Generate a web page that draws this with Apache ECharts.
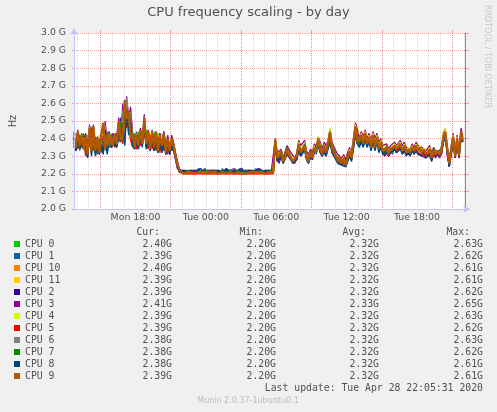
<!DOCTYPE html>
<html>
<head>
<meta charset="utf-8">
<script src="https://cdn.jsdelivr.net/npm/echarts@6/dist/echarts.min.js"></script>
<style>
html,body{margin:0;padding:0;background:#F0F0F0;}
#chart{width:497px;height:412px;}
</style>
</head>
<body>
<div id="chart"></div>
<script>
// ---- data: CPU frequency in units of 0.01 GHz, 10-minute samples from Mon 12:45 ----
const sampleStartHour = 12.75;   // hours since Mon 00:00
const sampleStepHour = 1 / 6;
const viewStartHour = 12.758;
const viewEndHour = 46.092;      // Tue 22:05:31

const cpuNames = ['CPU 0','CPU 1','CPU 10','CPU 11','CPU 2','CPU 3','CPU 4','CPU 5','CPU 6','CPU 7','CPU 8','CPU 9'];
const cpuColors = ['#00CC00','#0066B3','#FF8000','#FFCC00','#330099','#990099','#CCFF00','#FF0000','#808080','#008F00','#00487D','#B35A00'];
const curG = [2.40,2.39,2.40,2.39,2.39,2.41,2.39,2.39,2.38,2.38,2.38,2.39];
const minG = [2.20,2.20,2.20,2.20,2.20,2.20,2.20,2.20,2.20,2.20,2.20,2.20];
const avgG = [2.32,2.32,2.32,2.32,2.32,2.33,2.32,2.32,2.32,2.32,2.32,2.32];
const maxG = [2.63,2.62,2.61,2.61,2.62,2.65,2.63,2.62,2.63,2.62,2.61,2.61];

const xLabelHours = [18,24,30,36,42];
const xLabelTexts = ['Mon 18:00','Tue 00:00','Tue 06:00','Tue 12:00','Tue 18:00'];
const majorGridHours = [15,21,27,33,39,45];
const minorGridHours = [13,14,15,16,17,18,19,20,21,22,23,24,25,26,27,28,29,30,31,32,33,34,35,36,37,38,39,40,41,42,43,44,45,46];

const cpu0 = [
236,243,235,242,236,241,232,242,238,247,
234,240,233,241,233,241,233,243,237,243,
242,236,242,239,251,238,259,247,250,244,
236,243,235,244,237,245,241,245,235,243,
235,244,234,243,233,242,235,241,233,240,
234,237,231,226,222,221,221,222,221,221,
222,221,221,222,221,221,222,221,221,222,
221,221,222,221,221,222,221,222,221,221,
222,221,221,221,222,221,221,222,221,221,
221,222,221,221,222,221,221,221,222,221,
221,222,221,238,231,228,232,228,227,235,
234,228,229,226,231,233,235,231,238,231,
229,230,231,233,234,237,236,233,233,235,
235,240,236,235,231,229,227,228,226,226,
231,230,231,236,244,243,236,240,239,240,
239,238,237,240,237,238,236,236,235,231,
236,233,235,232,237,233,236,235,234,234,
234,232,233,234,234,234,235,233,234,232,
232,231,235,231,234,232,232,233,232,238,
242,235,228,235,238,232,237,232,240,240];
const cpu1 = [
238,234,241,235,239,236,235,230,244,235,
243,231,239,234,238,234,246,232,240,236,
237,240,236,246,239,250,237,261,246,252,
238,234,240,234,243,236,250,235,241,233,
241,234,239,232,243,233,240,231,238,231,
238,234,229,224,222,221,221,221,222,221,
221,222,221,221,223,221,221,222,221,221,
222,221,221,221,222,221,223,221,221,222,
221,221,222,221,221,223,221,221,222,221,
222,221,221,223,221,221,222,221,221,222,
221,221,221,237,227,227,231,226,228,232,
230,229,226,227,229,235,231,232,235,228,
226,231,228,234,231,238,233,230,235,230,
236,240,233,231,229,226,228,225,228,224,
228,232,228,236,245,237,236,240,236,241,
236,240,234,240,234,240,233,237,232,231,
233,230,233,231,235,233,234,236,232,235,
231,233,231,234,232,235,232,234,231,233,
229,231,232,228,232,230,232,230,232,239,
242,231,224,232,239,229,238,229,242,239];
const cpu10 = [
243,237,242,234,240,237,238,234,243,236,
245,235,238,236,240,236,247,235,241,238,
239,241,238,247,242,254,239,258,249,247,
241,237,243,238,242,239,249,239,243,236,
242,236,241,235,242,234,241,233,239,234,
239,235,230,225,221,220,221,220,220,221,
220,221,220,220,221,220,221,220,220,221,
220,221,220,221,220,220,221,220,221,220,
221,220,220,221,220,221,220,220,221,220,
220,221,220,220,221,220,221,220,220,221,
220,220,221,239,230,229,232,228,228,233,
233,229,228,227,230,236,233,233,237,230,
228,232,230,234,233,239,235,232,235,233,
236,242,235,234,230,228,229,227,228,226,
230,232,230,237,246,240,237,241,238,242,
238,240,236,241,236,240,235,237,234,232,
235,232,234,233,236,234,235,236,234,235,
233,233,232,235,233,235,233,234,232,233,
231,232,233,230,233,231,233,231,233,240,
243,234,227,234,240,231,239,231,241,240];
const cpu11 = [
237,242,238,241,235,242,233,240,239,244,
236,239,235,242,236,244,240,242,235,241,
240,237,241,244,247,242,256,251,254,240,
240,236,243,237,244,238,247,240,236,244,
237,242,236,242,235,243,237,240,235,239,
236,237,231,226,222,220,220,221,220,220,
221,220,220,221,220,220,221,220,220,220,
221,220,220,220,221,220,220,221,220,220,
220,221,220,220,220,221,220,220,221,220,
220,220,221,220,220,220,221,220,220,220,
221,220,220,240,231,230,234,227,230,236,
236,231,230,228,232,239,236,235,239,233,
230,234,232,237,235,241,238,234,238,236,
239,246,238,237,233,231,232,229,231,228,
232,235,232,240,249,246,240,244,241,245,
240,243,239,244,240,243,238,240,236,235,
237,234,236,235,238,236,237,239,236,238,
235,236,234,237,235,238,236,237,235,236,
233,234,236,232,235,233,234,233,235,244,
246,236,228,236,243,232,242,232,245,239];
const cpu2 = [
241,233,243,234,238,235,243,229,242,232,
246,232,241,231,243,232,247,233,244,235,
243,235,243,238,252,240,247,262,243,251,
237,240,234,242,236,244,246,236,243,234,
240,233,242,232,240,232,244,231,241,231,
237,233,228,223,222,222,221,222,222,221,
222,222,221,222,222,223,221,222,222,221,
222,223,222,221,222,222,221,222,223,222,
221,222,222,221,222,222,223,221,222,222,
221,222,222,221,223,222,221,222,222,221,
222,222,221,237,228,226,230,226,227,231,
232,228,226,226,228,234,230,231,234,228,
226,230,228,232,231,236,232,230,233,231,
235,238,233,232,228,226,227,225,227,224,
227,230,228,235,243,237,236,239,236,240,
236,239,234,239,234,239,233,236,232,230,
232,230,232,231,234,232,233,235,232,234,
231,232,231,233,232,234,232,233,230,232,
229,230,231,228,231,230,231,230,231,238,
241,231,224,231,238,229,237,229,241,239];
const cpu3 = [
244,236,245,237,243,235,242,233,248,234,
248,234,241,233,243,236,250,237,244,236,
243,238,243,252,241,260,246,264,252,258,
244,236,244,237,246,238,254,238,245,235,
245,236,244,234,243,237,244,233,242,234,
242,238,232,227,223,221,222,221,222,222,
221,222,222,221,222,221,222,223,221,222,
222,221,222,222,221,222,222,221,222,223,
222,221,223,222,221,222,222,221,222,222,
221,222,222,222,221,223,222,221,222,222,
221,222,222,240,232,232,234,229,230,236,
237,232,231,229,232,239,236,235,239,233,
231,234,232,237,235,241,238,234,238,236,
239,245,238,237,233,231,232,229,231,228,
232,235,232,240,249,245,240,244,241,245,
240,243,239,244,240,243,238,240,236,235,
237,234,236,235,238,236,237,239,236,238,
235,236,234,237,235,238,236,237,235,236,
233,234,236,232,235,233,234,233,235,243,
245,236,228,236,243,232,242,232,246,241];
const cpu4 = [
239,241,237,243,234,240,236,238,245,231,
241,237,236,240,235,239,244,238,236,240,
238,243,235,249,243,253,242,263,247,249,
242,235,241,238,243,236,251,241,239,237,
243,233,240,236,238,241,236,238,234,241,
235,236,230,225,222,221,221,220,221,221,
221,221,221,220,221,221,221,220,221,221,
220,221,221,221,221,220,221,221,220,221,
221,221,221,220,221,221,220,221,221,221,
220,221,221,221,220,221,221,221,220,221,
221,221,220,238,229,229,233,226,229,234,
232,230,227,227,230,238,233,233,238,231,
228,232,229,236,232,241,236,231,236,233,
238,246,235,235,230,228,230,227,229,225,
229,234,230,239,248,241,238,243,239,244,
238,242,236,243,236,242,235,239,234,233,
236,232,235,233,237,235,236,238,234,237,
233,235,233,236,233,237,234,236,233,235,
231,233,235,230,234,232,233,232,234,242,
245,234,226,234,242,231,241,231,244,239];
const cpu5 = [
235,240,234,241,235,239,230,240,237,246,
233,238,231,240,232,240,234,241,235,241,
241,235,239,240,246,237,255,246,251,239,
235,242,234,242,236,244,242,243,234,242,
234,242,233,241,232,240,233,239,231,238,
233,235,229,224,221,220,220,220,220,220,
220,220,220,220,220,220,220,220,220,220,
220,220,220,220,220,220,220,220,220,220,
220,220,220,220,220,220,220,220,220,220,
220,220,220,220,220,220,220,220,220,220,
220,220,220,237,229,227,231,227,227,233,
232,228,228,226,229,234,232,231,236,229,
227,231,229,233,232,237,234,231,234,232,
235,241,234,233,229,227,228,226,227,225,
229,231,229,236,244,239,236,240,237,241,
237,239,235,240,235,239,234,236,233,231,
234,231,233,232,235,233,234,235,233,234,
232,232,231,234,232,234,232,233,231,232,
230,231,232,229,232,230,232,230,232,239,
242,233,226,233,240,230,239,230,243,239];
const cpu6 = [
242,236,243,233,241,236,240,232,247,234,
246,234,240,233,241,235,248,235,243,236,
237,242,236,248,241,256,240,263,250,255,
242,236,243,236,244,237,253,237,244,234,
244,235,243,233,242,235,242,232,240,232,
239,236,230,225,222,221,221,221,221,221,
221,221,221,221,221,221,221,221,221,221,
221,221,221,221,221,221,221,221,221,221,
221,221,221,221,221,221,221,221,221,221,
221,221,221,221,221,221,221,221,221,221,
221,221,221,239,229,230,233,227,229,234,
232,230,227,228,230,237,233,233,237,230,
228,232,229,235,232,240,235,231,236,232,
237,244,234,234,230,228,230,226,229,225,
229,233,230,238,247,239,237,242,238,243,
237,241,235,242,236,241,234,238,233,232,
235,231,234,233,236,234,235,237,233,236,
232,234,232,235,233,236,233,235,232,234,
231,232,234,229,233,231,233,231,233,240,
243,233,226,233,241,230,240,230,243,238];
const cpu7 = [
237,240,236,242,237,243,234,236,240,245,
238,241,234,237,239,238,236,244,238,239,
241,238,240,242,250,239,252,256,248,245,
239,241,237,241,240,243,243,244,238,240,
238,241,237,240,236,239,238,237,235,237,
236,236,231,225,222,222,221,221,222,221,
221,222,221,221,222,221,221,221,222,221,
221,221,222,221,221,221,222,221,221,221,
222,221,221,221,222,221,221,221,222,221,
221,221,222,221,221,221,222,221,221,221,
222,221,221,238,230,228,233,228,228,235,
235,229,229,227,231,235,234,232,237,231,
228,231,230,234,233,238,235,232,234,233,
236,242,236,235,231,228,228,227,227,226,
231,231,230,237,245,242,237,241,238,241,
238,239,236,241,236,240,235,237,234,232,
236,232,234,233,236,234,236,236,234,235,
234,233,232,235,234,235,234,234,233,233,
231,231,234,230,234,231,233,232,233,239,
243,234,227,234,240,231,239,231,242,238];
const cpu8 = [
236,233,239,234,237,234,237,229,241,230,
244,230,236,231,237,231,245,231,239,235,
235,237,235,243,238,249,236,257,242,250,
236,234,238,234,241,235,248,234,240,233,
239,233,238,232,239,232,239,231,236,231,
236,233,228,223,221,221,221,221,221,221,
222,221,221,221,221,222,221,221,221,221,
221,221,221,222,221,221,221,221,222,221,
221,222,221,221,221,221,222,221,221,221,
221,221,221,221,222,221,221,221,221,222,
221,221,221,236,227,226,230,226,226,231,
230,228,226,226,228,233,230,230,234,228,
226,229,228,232,231,236,232,230,232,230,
234,238,232,231,228,226,226,225,226,224,
227,230,227,234,242,237,235,238,235,239,
235,238,233,238,233,238,232,235,231,230,
232,230,232,231,234,232,233,234,231,233,
230,232,230,233,231,233,231,232,230,231,
229,230,231,227,231,229,231,229,231,238,
241,231,224,231,238,229,237,229,240,238];
const cpu9 = [
240,235,244,236,242,234,241,231,246,233,
247,233,240,232,242,249,234,243,236,242,
236,243,237,250,239,241,262,251,256,240,
243,235,242,236,245,237,252,237,244,234,
243,235,244,233,241,236,243,232,240,233,
240,236,230,225,222,221,220,221,221,220,
221,221,220,221,221,220,221,221,221,220,
221,220,221,221,220,221,221,221,220,221,
221,221,220,221,221,221,220,221,220,221,
221,220,221,221,221,220,221,221,220,221,
221,220,221,239,229,231,233,227,229,234,
231,230,227,228,230,237,232,234,236,229,
227,233,229,235,232,240,234,231,236,232,
237,244,234,233,230,227,230,226,229,225,
229,233,229,238,247,238,237,242,237,243,
237,241,235,242,235,241,234,238,233,232,
235,231,234,233,236,234,235,237,233,236,
232,234,232,235,233,236,233,235,232,234,
231,232,234,229,233,231,233,231,233,241,
244,233,226,233,241,230,240,230,244,239];

const cpuValues = [cpu0,cpu1,cpu10,cpu11,cpu2,cpu3,cpu4,cpu5,cpu6,cpu7,cpu8,cpu9];

// ---- styling ----
const TXT = '#505050';
const AXIS_LAVENDER = '#c4c4f2';
const MAJOR = 'rgba(224,80,80,0.5)';
const MINOR = 'rgba(143,143,143,0.35)';
const MONO = '"DejaVu Sans Mono", monospace';
const SANS = '"DejaVu Sans", sans-serif';
const FS = 9.8;
// later series are drawn on top; the last ones get a slightly broader stroke so
// the band reads as a dense brown/orange mass like the reference
const lineWidths = [1.2,1.2,1.6,1.2,1.2,1.2,1.2,1.2,1.2,1.2,1.4,2.2];

const chart = echarts.init(document.getElementById('chart'), null, {renderer: 'canvas'});

const series = cpuNames.map((name, k) => ({
  name: name,
  type: 'line',
  xAxisIndex: 0,
  yAxisIndex: 0,
  showSymbol: false,
  symbol: 'none',
  animation: false,
  silent: true,
  color: cpuColors[k],
  lineStyle: {width: lineWidths[k], color: cpuColors[k]},
  data: cpuValues[k].map((v, i) => [sampleStartHour + i * sampleStepHour, v / 100])
}));

const fmtG = v => v.toFixed(2) + 'G';

const option = {
  backgroundColor: '#F0F0F0',
  animation: false,
  title: {
    text: 'CPU frequency scaling - by day',
    left: 'center',
    top: 6,
    padding: 0,
    textStyle: {fontFamily: SANS, fontSize: 13, fontWeight: 'normal', color: TXT}
  },
  grid: {
    left: 67, right: 32, top: 33, bottom: 203,
    show: true, backgroundColor: '#FFFFFF', borderWidth: 0,
    containLabel: false
  },
  legend: {
    orient: 'vertical',
    left: 14,
    top: 238,
    padding: 0,
    itemGap: 0,
    itemWidth: 6,
    itemHeight: 6,
    icon: 'rect',
    selectedMode: false,
    data: cpuNames.map((n, k) => ({name: n, itemStyle: {color: cpuColors[k]}})),
    formatter: name => {
      const k = cpuNames.indexOf(name);
      return '{n|' + name + '}{c|' + fmtG(curG[k]) + '}{mi|' + fmtG(minG[k]) +
             '}{a|' + fmtG(avgG[k]) + '}{mx|' + fmtG(maxG[k]) + '}';
    },
    textStyle: {
      fontFamily: MONO, fontSize: FS, color: TXT, lineHeight: 12,
      rich: {
        n: {fontFamily: MONO, fontSize: FS, color: TXT, width: 101, align: 'left', lineHeight: 12},
        c: {fontFamily: MONO, fontSize: FS, color: TXT, width: 46, align: 'right', lineHeight: 12},
        mi: {fontFamily: MONO, fontSize: FS, color: TXT, width: 104, align: 'right', lineHeight: 12},
        a: {fontFamily: MONO, fontSize: FS, color: TXT, width: 103, align: 'right', lineHeight: 12},
        mx: {fontFamily: MONO, fontSize: FS, color: TXT, width: 104, align: 'right', lineHeight: 12}
      }
    }
  },
  xAxis: [
    {
      type: 'value', min: viewStartHour, max: viewEndHour, z: 5,
      axisLine: {show: true, lineStyle: {color: AXIS_LAVENDER, width: 1},
                 symbol: ['none', 'arrow'], symbolSize: [6, 7], symbolOffset: [0, 5]},
      axisTick: {show: false, customValues: xLabelHours},
      splitLine: {show: false},
      axisLabel: {
        customValues: xLabelHours,
        formatter: v => xLabelTexts[xLabelHours.indexOf(Math.round(v))] || '',
        color: TXT, fontFamily: SANS, fontSize: 9.4, margin: 4, hideOverlap: false
      }
    },
    {
      type: 'value', min: viewStartHour, max: viewEndHour, z: 1,
      axisLine: {show: false},
      axisLabel: {show: false},
      axisTick: {show: false, customValues: minorGridHours},
      splitLine: {show: true, lineStyle: {color: MINOR, width: 1, type: [1, 1]}}
    },
    {
      type: 'value', min: viewStartHour, max: viewEndHour, z: 2,
      axisLine: {show: false},
      axisLabel: {show: false},
      axisTick: {show: true, customValues: majorGridHours, length: 3, inside: false,
                 lineStyle: {color: MAJOR, width: 1}},
      splitLine: {show: true, lineStyle: {color: MAJOR, width: 1, type: [1, 1]}}
    }
  ],
  yAxis: [
    {
      type: 'value', min: 2.0, max: 3.0, interval: 0.1, position: 'left', z: 5,
      name: 'Hz', nameLocation: 'middle', nameGap: 56, nameRotate: 90,
      nameTextStyle: {color: TXT, fontFamily: SANS, fontSize: 9.8},
      axisLine: {show: true, lineStyle: {color: AXIS_LAVENDER, width: 1},
                 symbol: ['none', 'arrow'], symbolSize: [6, 7], symbolOffset: [0, 5]},
      axisTick: {show: true, length: 2, lineStyle: {color: MAJOR}},
      axisLabel: {formatter: v => v.toFixed(1) + ' G', color: TXT, fontFamily: SANS, fontSize: 9.3, margin: 8},
      splitLine: {show: true, lineStyle: {color: MAJOR, width: 1, type: [1, 1]}}
    },
    {
      type: 'value', min: 2.0, max: 3.0, interval: 0.1, position: 'right', z: 5,
      axisLine: {show: true, lineStyle: {color: '#8c8c8c', width: 1}},
      axisTick: {show: true, length: 4, inside: false, lineStyle: {color: MAJOR}},
      axisLabel: {show: false},
      splitLine: {show: false}
    }
  ],
  graphic: [
    {type: 'text', x: 160, y: 232.7, silent: true,
     style: {text: 'Cur:', align: 'right', textAlign: 'right', verticalAlign: 'middle', textVerticalAlign: 'middle', font: FS + 'px ' + MONO, fill: TXT}},
    {type: 'text', x: 263, y: 232.7, silent: true,
     style: {text: 'Min:', align: 'right', textAlign: 'right', verticalAlign: 'middle', textVerticalAlign: 'middle', font: FS + 'px ' + MONO, fill: TXT}},
    {type: 'text', x: 366, y: 232.7, silent: true,
     style: {text: 'Avg:', align: 'right', textAlign: 'right', verticalAlign: 'middle', textVerticalAlign: 'middle', font: FS + 'px ' + MONO, fill: TXT}},
    {type: 'text', x: 470, y: 232.7, silent: true,
     style: {text: 'Max:', align: 'right', textAlign: 'right', verticalAlign: 'middle', textVerticalAlign: 'middle', font: FS + 'px ' + MONO, fill: TXT}},
    {type: 'text', x: 483, y: 388.3, silent: true,
     style: {text: 'Last update: Tue Apr 28 22:05:31 2020', align: 'right', textAlign: 'right', verticalAlign: 'middle', textVerticalAlign: 'middle', font: FS + 'px ' + MONO, fill: TXT}},
    {type: 'text', x: 248, y: 401, silent: true,
     style: {text: 'Munin 2.0.37-1ubuntu0.1', align: 'center', textAlign: 'center', verticalAlign: 'middle', textVerticalAlign: 'middle', font: '8px ' + SANS, fill: '#bdbdbd'}},
    {type: 'text', x: 487, y: 5, rotation: -Math.PI / 2, silent: true,
     style: {text: 'RRDTOOL / TOBI OETIKER', align: 'left', textAlign: 'left', verticalAlign: 'middle', textVerticalAlign: 'middle', font: '8px ' + SANS, fill: '#c8c8c8'}}
  ],
  series: series
};

chart.setOption(option);
</script>
</body>
</html>
